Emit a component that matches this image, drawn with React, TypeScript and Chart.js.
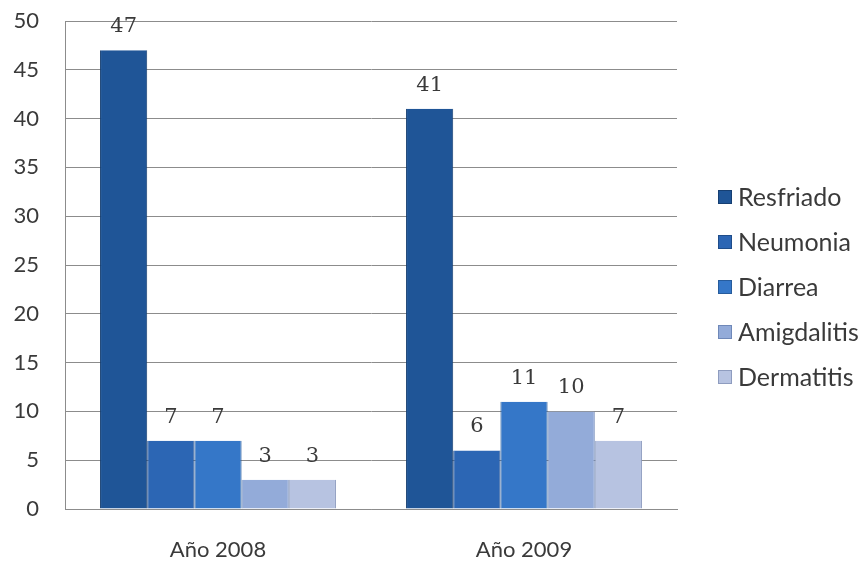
import React, { useEffect, useRef } from "react";
import { Chart, registerables } from "chart.js";

Chart.register(...registerables);

// ---- data ----
const categories = ["Año 2008", "Año 2009"];
const seriesNames = ["Resfriado", "Neumonia", "Diarrea", "Amigdalitis", "Dermatitis"];
const resfriado = [47, 41];
const neumonia = [7, 6];
const diarrea = [7, 11];
const amigdalitis = [3, 10];
const dermatitis = [3, 7];
const yMin = 0;
const yMax = 50;
const yStep = 5;

// ---- styles ----
const fillColors = ["#1f5597", "#2c66b4", "#3577c8", "#93abd9", "#b7c3e1"];
const edgeColors = ["#163f72", "#1f4d8a", "#275c9c", "#6f88b8", "#8e9cbf"];
const gridColor = "#8c8c8c";
const textColor = "#3a3a3a";
const uiFont = "Lato, 'Open Sans', sans-serif";
const labelFont = "21px 'DejaVu Serif', serif";
const legendFont = "25px Lato, 'Open Sans', sans-serif";

const valueLabels = {
  id: "valueLabels",
  afterDatasetsDraw(chart: any) {
    const ctx = chart.ctx;
    ctx.save();
    ctx.font = labelFont;
    ctx.fillStyle = textColor;
    ctx.textAlign = "center";
    ctx.textBaseline = "alphabetic";
    chart.data.datasets.forEach((ds: any, i: number) => {
      const meta = chart.getDatasetMeta(i);
      meta.data.forEach((bar: any, j: number) => {
        ctx.fillText(String(ds.data[j]), bar.x, bar.y - 18);
      });
    });
    ctx.restore();
  },
};

// right-hand legend, laid out like the original (boxes + labels in a column)
const sideLegend = {
  id: "sideLegend",
  afterDraw(chart: any) {
    const ctx = chart.ctx;
    const ds = chart.data.datasets;
    const spacing = 45;
    const box = 14;
    const midY = chart.height / 2 + 4;
    const x0 = chart.chartArea.right + 41;
    ctx.save();
    ctx.font = legendFont;
    ctx.textAlign = "left";
    ctx.textBaseline = "middle";
    ds.forEach((d: any, i: number) => {
      const cy = midY + (i - (ds.length - 1) / 2) * spacing;
      ctx.fillStyle = d.backgroundColor;
      ctx.fillRect(x0, cy - box / 2, box, box);
      ctx.strokeStyle = d.borderColor;
      ctx.lineWidth = 1;
      ctx.strokeRect(x0 + 0.5, cy - box / 2 + 0.5, box - 1, box - 1);
      ctx.fillStyle = textColor;
      ctx.fillText(d.label, x0 + box + 6, cy + 1);
    });
    ctx.restore();
  },
};

function buildChart(canvas: HTMLCanvasElement) {
  const series = [resfriado, neumonia, diarrea, amigdalitis, dermatitis];
  return new Chart(canvas, {
    type: "bar",
    data: {
      labels: categories,
      datasets: series.map((values, i) => ({
        label: seriesNames[i],
        data: values,
        backgroundColor: fillColors[i],
        borderColor: edgeColors[i],
        borderWidth: { top: 0, left: 1, right: 1, bottom: 0 },
        borderSkipped: false,
        categoryPercentage: 0.771,
        barPercentage: 1,
      })),
    },
    options: {
      animation: false,
      responsive: true,
      maintainAspectRatio: false,
      layout: { padding: { top: 21, right: 191, bottom: 0, left: 0 } },
      plugins: {
        tooltip: { enabled: false },
        legend: { display: false },
      },
      scales: {
        x: {
          grid: { display: false, drawTicks: false },
          border: { display: true, color: gridColor },
          ticks: { font: { family: uiFont, size: 22 }, color: textColor, padding: 28 },
          afterFit(s: any) {
            s.height = 57;
          },
        },
        y: {
          min: yMin,
          max: yMax,
          ticks: {
            stepSize: yStep,
            font: { family: uiFont, size: 22 },
            color: textColor,
            padding: 26,
          },
          grid: { color: gridColor, drawTicks: false, tickLength: 0 },
          border: { display: true, color: gridColor },
          afterFit(s: any) {
            s.width = 65;
            s.paddingTop = 0;
            s.paddingBottom = 0;
          },
        },
      },
    } as any,
    plugins: [valueLabels, sideLegend],
  });
}

export default function App() {
  const ref = useRef<HTMLCanvasElement | null>(null);

  useEffect(() => {
    let chart: any = null;
    let cancelled = false;
    const start = () => {
      if (cancelled || !ref.current) return;
      chart = buildChart(ref.current);
    };
    const fonts: any = (document as any).fonts;
    if (fonts && fonts.load) {
      Promise.all([fonts.load(legendFont), fonts.load("22px Lato"), fonts.load(labelFont)])
        .catch(() => null)
        .then(start);
    } else {
      start();
    }
    return () => {
      cancelled = true;
      if (chart) chart.destroy();
    };
  }, []);

  return (
    <div style={{ position: "absolute", left: 0, top: 0, width: 868, height: 566, background: "#fff" }}>
      <canvas ref={ref} />
    </div>
  );
}
